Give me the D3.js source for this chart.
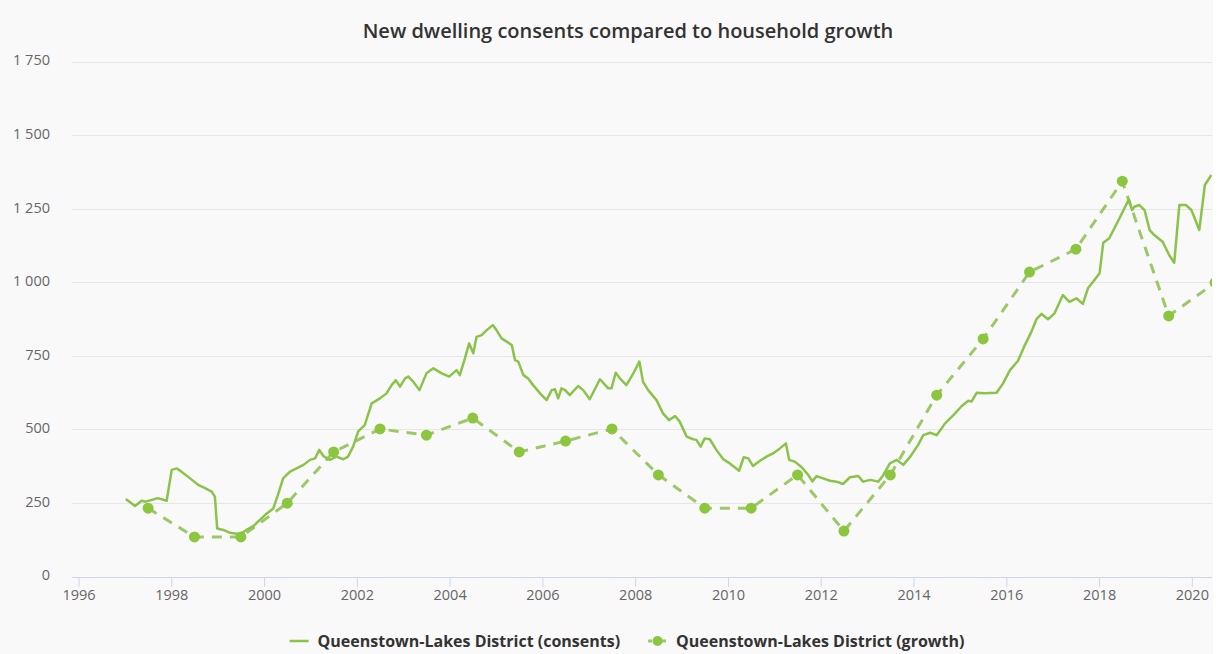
<!DOCTYPE html>
<html>
<head>
<meta charset="utf-8">
<script src="https://cdn.jsdelivr.net/npm/d3@7"></script>
<style>
  html, body { margin: 0; padding: 0; background: #ffffff; }
  svg { display: block; }
  text { font-family: "Open Sans", "Noto Sans", sans-serif; }
</style>
</head>
<body>
<svg id="chart" width="1219" height="654"></svg>
<script>
const chartTitle = "New dwelling consents compared to household growth";
const seriesNames = ["Queenstown-Lakes District (consents)", "Queenstown-Lakes District (growth)"];
const yTicks = [0, 250, 500, 750, 1000, 1250, 1500, 1750];
const xTicks = [1996, 1998, 2000, 2002, 2004, 2006, 2008, 2010, 2012, 2014, 2016, 2018, 2020];

const consentDates = [
  1997.02, 1997.22, 1997.36, 1997.45, 1997.58, 1997.71, 1997.90, 1998.01, 1998.12, 1998.22,
  1998.40, 1998.58, 1998.73, 1998.87, 1998.94, 1998.99, 1999.12, 1999.27, 1999.48, 1999.62,
  1999.77, 1999.91, 2000.06, 2000.20, 2000.31, 2000.41, 2000.56, 2000.70, 2000.85, 2000.99,
  2001.10, 2001.19, 2001.28, 2001.42, 2001.56, 2001.71, 2001.81, 2001.92, 2002.03, 2002.17,
  2002.32, 2002.50, 2002.64, 2002.75, 2002.84, 2002.93, 2003.04, 2003.11, 2003.22, 2003.35,
  2003.50, 2003.65, 2003.83, 2003.99, 2004.15, 2004.22, 2004.33, 2004.42, 2004.51, 2004.58,
  2004.69, 2004.80, 2004.93, 2005.01, 2005.12, 2005.23, 2005.34, 2005.41, 2005.48, 2005.59,
  2005.69, 2005.80, 2005.95, 2006.09, 2006.20, 2006.27, 2006.34, 2006.41, 2006.49, 2006.59,
  2006.77, 2006.88, 2007.02, 2007.24, 2007.42, 2007.49, 2007.58, 2007.67, 2007.81, 2007.96,
  2008.09, 2008.17, 2008.28, 2008.46, 2008.60, 2008.73, 2008.86, 2008.96, 2009.11, 2009.25,
  2009.32, 2009.41, 2009.50, 2009.61, 2009.75, 2009.90, 2010.04, 2010.24, 2010.34, 2010.44,
  2010.54, 2010.69, 2010.83, 2010.97, 2011.12, 2011.25, 2011.32, 2011.44, 2011.59, 2011.73,
  2011.82, 2011.91, 2012.05, 2012.20, 2012.34, 2012.48, 2012.63, 2012.81, 2012.91, 2013.07,
  2013.24, 2013.35, 2013.49, 2013.64, 2013.78, 2013.93, 2014.10, 2014.21, 2014.36, 2014.50,
  2014.68, 2014.86, 2015.04, 2015.18, 2015.25, 2015.36, 2015.54, 2015.79, 2015.93, 2016.08,
  2016.25, 2016.40, 2016.54, 2016.65, 2016.76, 2016.90, 2017.04, 2017.22, 2017.36, 2017.51,
  2017.65, 2017.76, 2017.90, 2018.01, 2018.09, 2018.22, 2018.44, 2018.64, 2018.71, 2018.76,
  2018.87, 2018.98, 2019.09, 2019.19, 2019.37, 2019.51, 2019.62, 2019.73, 2019.87, 2019.99,
  2020.16, 2020.28, 2020.42
];
const consentValues = [
  265, 241, 259, 256, 262, 268, 259, 364, 369, 358,
  336, 313, 302, 290, 273, 165, 160, 150, 145, 160,
  173, 194, 216, 233, 284, 335, 358, 369, 381, 398,
  403, 432, 411, 398, 409, 400, 409, 443, 495, 516,
  590, 607, 624, 652, 669, 647, 675, 681, 663, 635,
  692, 709, 692, 681, 703, 686, 743, 794, 760, 816,
  822, 839, 856, 839, 811, 800, 788, 737, 732, 686,
  675, 652, 624, 601, 635, 638, 607, 641, 635, 618,
  649, 635, 604, 672, 641, 641, 694, 675, 652, 692,
  732, 663, 635, 601, 556, 533, 547, 528, 477, 468,
  466, 443, 471, 468, 432, 400, 386, 361, 407, 403,
  377, 395, 409, 420, 437, 454, 398, 392, 373, 347,
  325, 343, 335, 327, 324, 316, 339, 343, 324, 330,
  324, 347, 386, 398, 381, 409, 449, 482, 490, 482,
  522, 550, 581, 599, 596, 626, 624, 626, 658, 703,
  734, 788, 833, 876, 894, 876, 896, 958, 935, 947,
  928, 981, 1009, 1032, 1136, 1151, 1219, 1283, 1247, 1258,
  1264, 1247, 1179, 1162, 1139, 1094, 1068, 1264, 1264, 1247,
  1179, 1332, 1366
];

const growthDates = [
  1997.5, 1998.5, 1999.5, 2000.5, 2001.5, 2002.5, 2003.5, 2004.5, 2005.5, 2006.5, 2007.5, 2008.5,
  2009.5, 2010.5, 2011.5, 2012.5, 2013.5, 2014.5, 2015.5, 2016.5, 2017.5, 2018.5, 2019.5, 2020.5
];
const growthValues = [
  234, 136, 136, 251, 425, 503, 482, 540, 425, 462, 503, 347,
  234, 234, 347, 156, 347, 618, 809, 1036, 1114, 1345, 887, 1000
];

const green = "#8cc63f";
const lineGreen = "#8bc34a";
const dashGreen = "#9cc867";

const svg = d3.select("#chart");
const W = 1219, H = 654;
const plotLeft = 72, plotRight = 1212, plotTop = 62, plotBottom = 577;

svg.append("rect").attr("x", 0).attr("y", 0).attr("width", 1213).attr("height", H).attr("fill", "#f9f9f9");

const x = d3.scaleLinear().domain([1995.86, 2020.434]).range([plotLeft, plotRight]);
const y = d3.scaleLinear().domain([0, 1750]).range([plotBottom, plotTop]);

const locale = d3.formatLocale({ decimal: ".", thousands: " ", grouping: [3], currency: ["", ""] });
const fmt = locale.format(",");

// gridlines
svg.append("g")
  .selectAll("line")
  .data(yTicks.filter(d => d > 0))
  .join("line")
  .attr("x1", plotLeft).attr("x2", plotRight)
  .attr("y1", d => y(d)).attr("y2", d => y(d))
  .attr("stroke", "#e6e6e6").attr("stroke-width", 1)
  .attr("shape-rendering", "crispEdges");

// y axis labels
const yAxis = d3.axisLeft(y).tickValues(yTicks).tickFormat(fmt).tickSize(0).tickPadding(0);
const yg = svg.append("g").attr("transform", "translate(50,0)").call(yAxis);
yg.select(".domain").remove();
yg.selectAll("text").attr("fill", "#666666").style("font-size", "14.5px").attr("dy", "0.2em");

// x axis
const xAxis = d3.axisBottom(x).tickValues(xTicks).tickFormat(d3.format("d")).tickSize(10).tickPadding(3);
const xg = svg.append("g").attr("transform", `translate(0,${plotBottom})`).call(xAxis);
xg.select(".domain").attr("stroke", "#ccd6eb").attr("d", `M${plotLeft},0.5H${plotRight}`);
xg.selectAll(".tick line").attr("stroke", "#ccd6eb");
xg.selectAll("text").attr("fill", "#666666").style("font-size", "14.5px");

// clip
svg.append("clipPath").attr("id", "clip")
  .append("rect").attr("x", plotLeft).attr("y", 0).attr("width", plotRight - plotLeft).attr("height", plotBottom + 10);

const plot = svg.append("g").attr("clip-path", "url(#clip)");

const consents = consentDates.map((d, i) => ({ x: d, v: consentValues[i] }));
const growth = growthDates.map((d, i) => ({ x: d, v: growthValues[i] }));

const line = d3.line().x(d => x(d.x)).y(d => y(d.v));

plot.append("path")
  .datum(growth)
  .attr("d", line)
  .attr("fill", "none")
  .attr("stroke", dashGreen)
  .attr("stroke-width", 3)
  .attr("stroke-dasharray", "10,8");

plot.selectAll("circle.g")
  .data(growth)
  .join("circle")
  .attr("class", "g")
  .attr("cx", d => x(d.x)).attr("cy", d => y(d.v))
  .attr("r", 5.5)
  .attr("fill", green);

plot.append("path")
  .datum(consents)
  .attr("d", line)
  .attr("fill", "none")
  .attr("stroke", lineGreen)
  .attr("stroke-width", 2.5)
  .attr("stroke-linejoin", "round");

// title
svg.append("text")
  .attr("x", 628).attr("y", 38)
  .attr("text-anchor", "middle")
  .attr("fill", "#333333")
  .style("font-size", "20px")
  .style("font-weight", 600)
  .text(chartTitle);

// legend
const legend = svg.append("g").attr("transform", "translate(0,641)");
const items = [];
seriesNames.forEach((name, i) => {
  const g = legend.append("g");
  g.append("line").attr("x1", 0).attr("x2", 19).attr("y1", 0).attr("y2", 0)
    .attr("stroke", i === 0 ? lineGreen : dashGreen).attr("stroke-width", i === 0 ? 2.5 : 3)
    .attr("stroke-dasharray", i === 0 ? null : "4,3");
  if (i === 1) g.append("circle").attr("cx", 9.5).attr("cy", 0).attr("r", 5).attr("fill", green);
  g.append("text").attr("x", 28).attr("y", 5.5)
    .attr("fill", "#333333").style("font-size", "16px").style("font-weight", 700)
    .text(name);
  items.push(g);
});
const widths = items.map(g => g.node().getBBox().width);
const gap = 28;
const total = widths[0] + widths[1] + gap;
let lx = 627 - total / 2;
items.forEach((g, i) => { g.attr("transform", `translate(${lx},0)`); lx += widths[i] + gap; });
</script>
</body>
</html>
